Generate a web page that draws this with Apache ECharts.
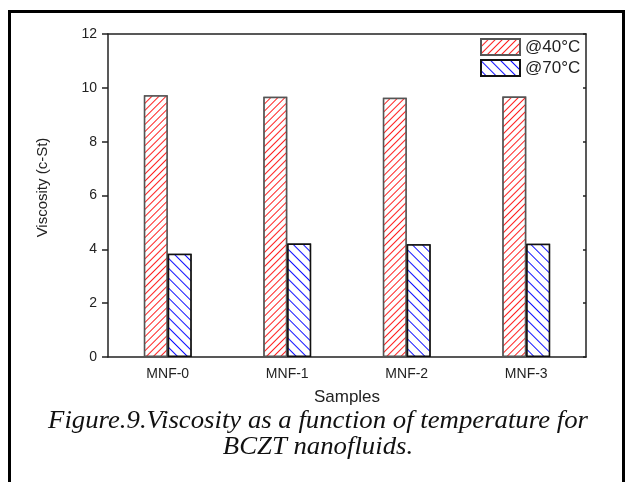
<!DOCTYPE html>
<html lang="en">
<head>
  <meta charset="UTF-8" />
  <title>Viscosity vs temperature</title>
  <script src="https://cdn.jsdelivr.net/npm/echarts@6/dist/echarts.min.js"></script>
  <style>
    body { margin: 0; background: #fff; }
    #chart { width: 625px; height: 482px; }
  </style>
</head>
<body>
  <div id="chart"></div>
  <script>
    // data
    const samples = ['MNF-0', 'MNF-1', 'MNF-2', 'MNF-3'];
    const visc40 = [9.72, 9.67, 9.63, 9.68];
    const visc70 = [3.84, 4.22, 4.19, 4.21];
    const seriesNames = ['@40°C', '@70°C'];

    const chart = echarts.init(document.getElementById('chart'));
    const axisFont = { fontFamily: 'Arial, Liberation Sans, sans-serif', color: '#222' };
    const lineStyle = { color: '#222', width: 1.5 };
    const captionFont = 'italic 25px "Liberation Serif", "Times New Roman", serif';

    chart.setOption({
      animation: false,
      grid: { left: 108, right: 39, top: 34, bottom: 125 },
      legend: {
        orient: 'vertical',
        left: 475, top: 33,
        itemWidth: 39, itemHeight: 16, itemGap: 3,
        icon: 'rect',
        textStyle: Object.assign({ fontSize: 17 }, axisFont),
        data: seriesNames
      },
      xAxis: [
        {
          type: 'category', data: samples, position: 'bottom',
          axisLine: { lineStyle },
          axisTick: { alignWithLabel: true, length: 6, lineStyle },
          axisLabel: Object.assign({ fontSize: 14, margin: 10 }, axisFont),
          name: 'Samples', nameLocation: 'middle', nameGap: 32,
          nameTextStyle: Object.assign({ fontSize: 17 }, axisFont)
        },
        {
          type: 'category', data: samples, position: 'bottom',
          axisLine: { show: false },
          axisTick: { length: 3, lineStyle },
          axisLabel: { show: false }
        },
        {
          type: 'category', data: samples, position: 'top',
          axisLine: { lineStyle },
          axisTick: { inside: true, length: 3, lineStyle },
          axisLabel: { show: false }
        }
      ],
      yAxis: [
        {
          type: 'value', min: 0, max: 12, interval: 2,
          axisLine: { show: true, lineStyle },
          axisTick: { show: true, length: 6, lineStyle },
          splitLine: { show: false },
          axisLabel: Object.assign({ fontSize: 14, margin: 11 }, axisFont),
          name: 'Viscosity (c-St)', nameLocation: 'middle', nameGap: 58,
          nameTextStyle: Object.assign({ fontSize: 15, padding: [0, 0, 0, 16] }, axisFont)
        },
        {
          type: 'value', min: 0, max: 12, interval: 2, position: 'right',
          axisLine: { show: true, lineStyle },
          axisTick: { show: true, inside: true, length: 3, lineStyle },
          splitLine: { show: false },
          axisLabel: { show: false }
        }
      ],
      series: [
        {
          name: seriesNames[0], type: 'bar', data: visc40,
          barGap: '0%', barCategoryGap: '60%',
          itemStyle: {
            color: '#fff', borderColor: '#555', borderWidth: 1.5,
            decal: {
              symbol: 'rect', color: '#ff2020', backgroundColor: '#fff',
              dashArrayX: [1, 0], dashArrayY: [1, 3.5], rotation: -Math.PI / 4
            }
          }
        },
        {
          name: seriesNames[1], type: 'bar', data: visc70,
          itemStyle: {
            color: '#fff', borderColor: '#111', borderWidth: 1.5,
            decal: {
              symbol: 'rect', color: '#1010ff', backgroundColor: '#fff',
              dashArrayX: [1, 0], dashArrayY: [1, 6], rotation: Math.PI / 4
            }
          }
        }
      ],
      graphic: [
        {
          type: 'rect', left: 7, top: 9,
          shape: { width: 614, height: 480 },
          style: { fill: 'none', stroke: '#000', lineWidth: 3 }
        },
        {
          type: 'text', x: 318, y: 421, scaleX: 1.07,
          style: {
            text: 'Figure.9.Viscosity as a function of temperature for',
            font: captionFont, fill: '#111', align: 'center', verticalAlign: 'middle'
          }
        },
        {
          type: 'text', x: 318, y: 447, scaleX: 1.07,
          style: {
            text: 'BCZT nanofluids.',
            font: captionFont, fill: '#111', align: 'center', verticalAlign: 'middle'
          }
        }
      ]
    });
  </script>
</body>
</html>
